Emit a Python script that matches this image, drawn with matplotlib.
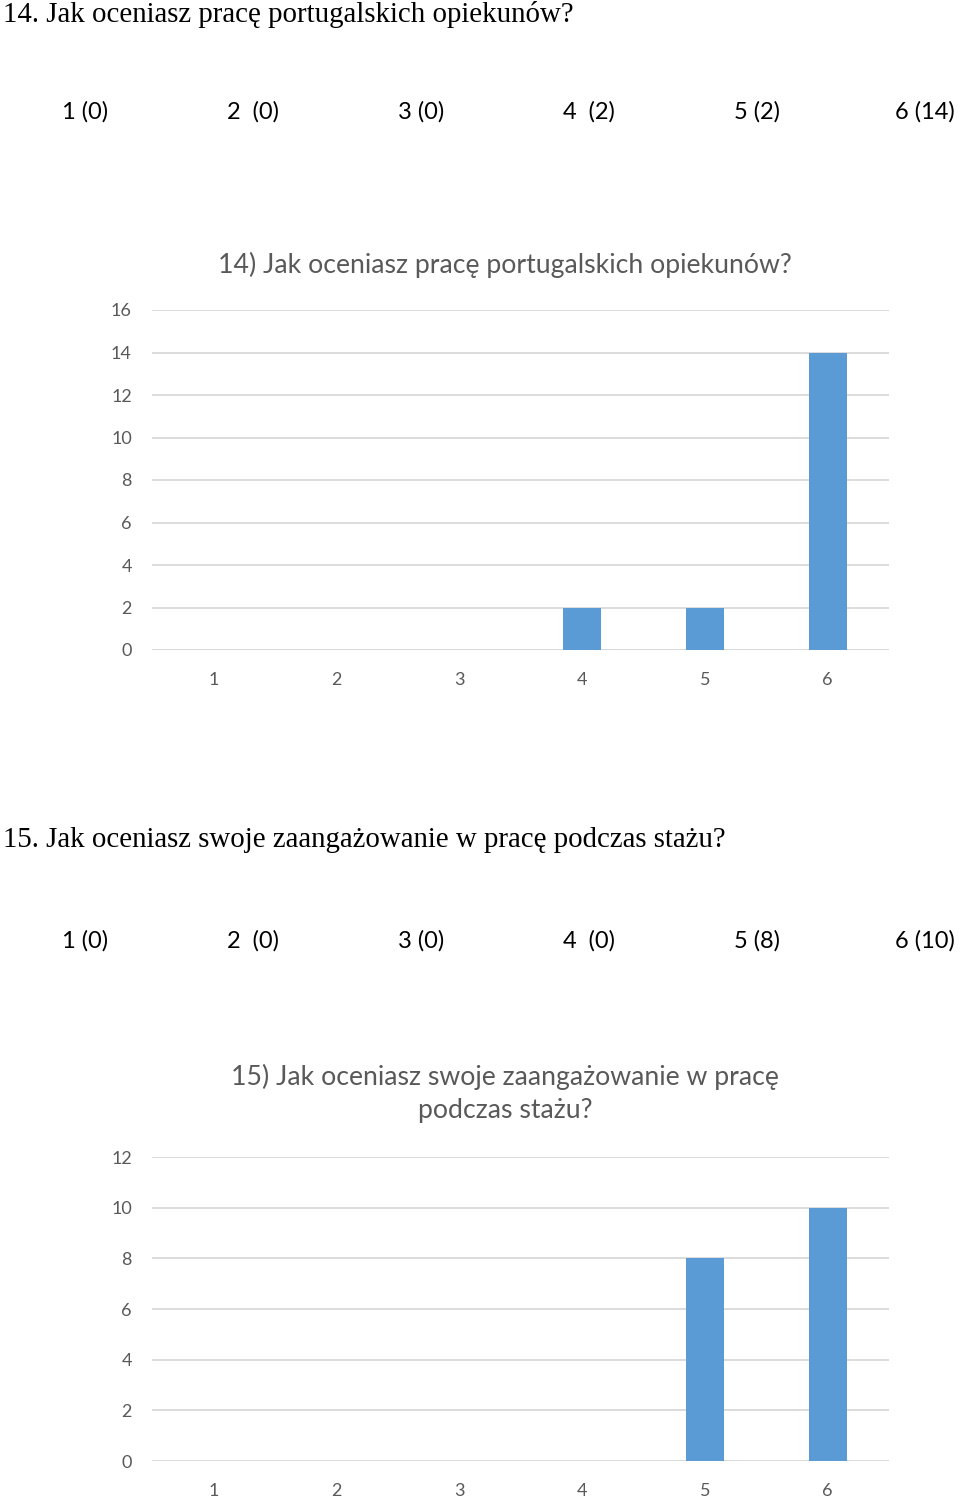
import matplotlib.pyplot as plt
import numpy as np

# survey answers, scale 1-6
categories = [1, 2, 3, 4, 5, 6]
q14_counts = [0, 0, 0, 2, 2, 14]
q15_counts = [0, 0, 0, 0, 8, 10]

q14_heading = "14. Jak oceniasz pracę portugalskich opiekunów?"
q15_heading = "15. Jak oceniasz swoje zaangażowanie w pracę podczas stażu?"
q14_title = "14) Jak oceniasz pracę portugalskich opiekunów?"
q15_title = "15) Jak oceniasz swoje zaangażowanie w pracę\npodczas stażu?"
q14_answers = ["1 (0)", "2  (0)", "3 (0)", "4  (2)", "5 (2)", "6 (14)"]
q15_answers = ["1 (0)", "2  (0)", "3 (0)", "4  (0)", "5 (8)", "6 (10)"]

W, H = 960, 1498
BAR = "#5b9bd5"
GRAY = "#595959"
GRID = "#d9d9d9"
SANS = ["Lato", "DejaVu Sans"]
SERIF = ["Liberation Serif", "DejaVu Serif"]

fig = plt.figure(figsize=(W / 100, H / 100), dpi=100)
fig.patch.set_facecolor("white")


def px(x, y):
    # pixel coords (top-left origin) -> figure fraction
    return x / W, 1 - y / H


def answer_row(labels, y):
    xs = [85, 253, 421, 589, 757, 925]
    for x, lab in zip(xs, labels):
        fig.text(*px(x, y), lab, ha="center", va="center", fontsize=17,
                 family=SANS, color="black")


def bar_chart(rect, counts, ymax, title, title_y):
    ax = fig.add_axes(rect)
    ax.bar(categories, counts, width=0.31, color=BAR, zorder=3)
    ax.set_xlim(0.5, 6.5)
    ax.set_ylim(0, ymax)
    ax.set_yticks(np.arange(0, ymax + 1, 2))
    ax.set_xticks(categories)
    ax.grid(axis="y", color=GRID, linewidth=1.3, zorder=0)
    ax.tick_params(length=0, labelsize=13, labelcolor=GRAY)
    ax.tick_params(axis="y", pad=14.5)
    ax.tick_params(axis="x", pad=16)
    for lab in ax.get_xticklabels() + ax.get_yticklabels():
        lab.set_family(SANS)
    for s in ax.spines.values():
        s.set_visible(False)
    ax.axhline(0, color=GRID, linewidth=1.3, zorder=2)
    fig.text(*px(505, title_y), title, ha="center", va="center", fontsize=19.2,
             family=SANS, color=GRAY, linespacing=1.4)
    return ax


# question 14
fig.text(*px(3, 14), q14_heading, ha="left", va="center", fontsize=20.8,
         family=SERIF, color="black")
answer_row(q14_answers, 112)
bar_chart([152 / W, 848 / H, 737 / W, 340 / H], q14_counts, 16, q14_title, 265)

# question 15
fig.text(*px(3, 840), q15_heading, ha="left", va="center", fontsize=20.8,
         family=SERIF, color="black")
answer_row(q15_answers, 941)
bar_chart([152 / W, 37 / H, 737 / W, 304 / H], q15_counts, 12, q15_title, 1093)

fig.savefig("out.png", dpi=100)
